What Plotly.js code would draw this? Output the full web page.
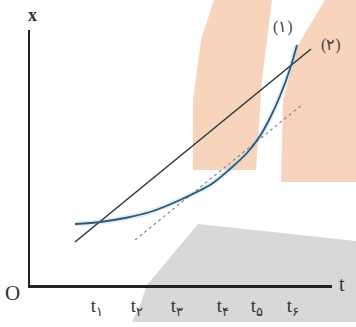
<!DOCTYPE html>
<html>
<head>
<meta charset="utf-8">
<script src="https://cdn.plot.ly/plotly-3.0.1.min.js"></script>
<style>html,body{margin:0;padding:0;background:#fff;}#chart{width:356px;height:327px;}</style>
</head>
<body>
<div id="chart"></div>
<script>
// Curve (1): position x vs time t
const curveT = [4.5, 7.0, 9.5, 12.0, 15.0, 18.3, 20.0, 21.7, 23.0, 24.0, 25.0, 26.0, 26.7];
const curveX = [6.1, 6.3, 6.7, 7.3, 8.5, 10.2, 11.6, 13.2, 14.9, 16.7, 18.9, 21.6, 24.0];
// Line (2): straight chord
const chordT = [4.5, 28.1];
const chordX = [4.3, 23.6];
// Dashed tangent line
const tangentT = [10.5, 27.3];
const tangentX = [4.5, 18.1];
// Tick labels
const tickVals = [6.7, 10.7, 14.7, 19.3, 22.7, 26.3];
const tickText = ['t<sub>۱</sub>', 't<sub>۲</sub>', 't<sub>۳</sub>', 't<sub>۴</sub>', 't<sub>۵</sub>', 't<sub>۶</sub>'];
const curveLabels = ['(۱)', '(۲)'];

const traces = [
  {x: curveT, y: curveX, mode: 'lines', line: {color: 'rgba(175,218,240,0.45)', width: 5, shape: 'spline', smoothing: 0.8}, hoverinfo: 'skip'},
  {x: tangentT, y: tangentX, mode: 'lines', line: {color: '#8a8a8a', width: 1.2, dash: '3px,3px'}},
  {x: chordT, y: chordX, mode: 'lines', line: {color: '#2f3a40', width: 1.6}},
  {x: curveT, y: curveX, mode: 'lines', line: {color: '#2c5a78', width: 1.8, shape: 'spline', smoothing: 0.8}}
];

const peach = '#f9d4bc';
const serif = 'Liberation Serif, DejaVu Serif, serif';
const layout = {
  width: 356, height: 327,
  margin: {l: 30, r: 24, t: 30, b: 42},
  paper_bgcolor: '#ffffff', plot_bgcolor: 'rgba(0,0,0,0)',
  showlegend: false,
  xaxis: {range: [0, 30.2], showgrid: false, zeroline: false, showline: true, linecolor: '#222', linewidth: 2.5,
    tickvals: tickVals, ticktext: tickText, ticks: '', ticklabelstandoff: 2,
    tickfont: {family: serif, size: 19, color: '#333'}},
  yaxis: {range: [0, 25.5], showgrid: false, zeroline: false, showline: true, linecolor: '#222', linewidth: 2.5,
    showticklabels: false, ticks: ''},
  annotations: [
    {text: '<b>x</b>', xref: 'paper', yref: 'paper', x: 0, y: 1, xanchor: 'center', yanchor: 'middle', xshift: 2, yshift: 15, showarrow: false,
     font: {family: serif, size: 18, color: '#333'}},
    {text: 't', xref: 'paper', yref: 'paper', x: 1, y: 0, xanchor: 'center', yanchor: 'middle', xshift: 10, yshift: 1, showarrow: false,
     font: {family: serif, size: 20, color: '#333'}},
    {text: 'O', xref: 'paper', yref: 'paper', x: 0, y: 0, xanchor: 'center', yanchor: 'middle', xshift: -18, yshift: -8, showarrow: false,
     font: {family: serif, size: 21, color: '#333'}},
    {text: curveLabels[0], xref: 'paper', yref: 'paper', x: (283-30)/302, y: (285-27)/255, xanchor: 'center', yanchor: 'middle', showarrow: false,
     font: {family: serif, size: 16, color: '#444'}},
    {text: curveLabels[1], xref: 'paper', yref: 'paper', x: (331-30)/302, y: (285-45)/255, xanchor: 'center', yanchor: 'middle', showarrow: false,
     font: {family: serif, size: 16, color: '#444'}}
  ]
};

// background decorative shapes (pixel outlines converted to paper coords)
function px(xp){return (xp-30)/302;}
function py(yp){return (285-yp)/255;}
const leftPeach = [[214,0],[272,0],[262,80],[256,170],[193,170],[193,100],[201,40]];
const rightPeach = [[325,0],[356,0],[356,182],[281,182],[283,100],[298,45]];
const grey = [[198,224],[356,241],[356,322],[132,322],[140,305],[147,285]];
function toPath(arr){return arr.map((p,i)=>(i?'L':'M')+px(p[0]).toFixed(4)+','+py(p[1]).toFixed(4)).join(' ')+' Z';}
layout.shapes = [
  {type:'path', xref:'paper', yref:'paper', layer:'below', line:{width:0}, fillcolor: peach, path: toPath(leftPeach)},
  {type:'path', xref:'paper', yref:'paper', layer:'below', line:{width:0}, fillcolor: peach, path: toPath(rightPeach)},
  {type:'path', xref:'paper', yref:'paper', layer:'below', line:{width:0}, fillcolor: '#d8d8d8', path: toPath(grey)}
];

Plotly.newPlot('chart', traces, layout, {staticPlot: true, displayModeBar: false});
</script>
</body>
</html>
